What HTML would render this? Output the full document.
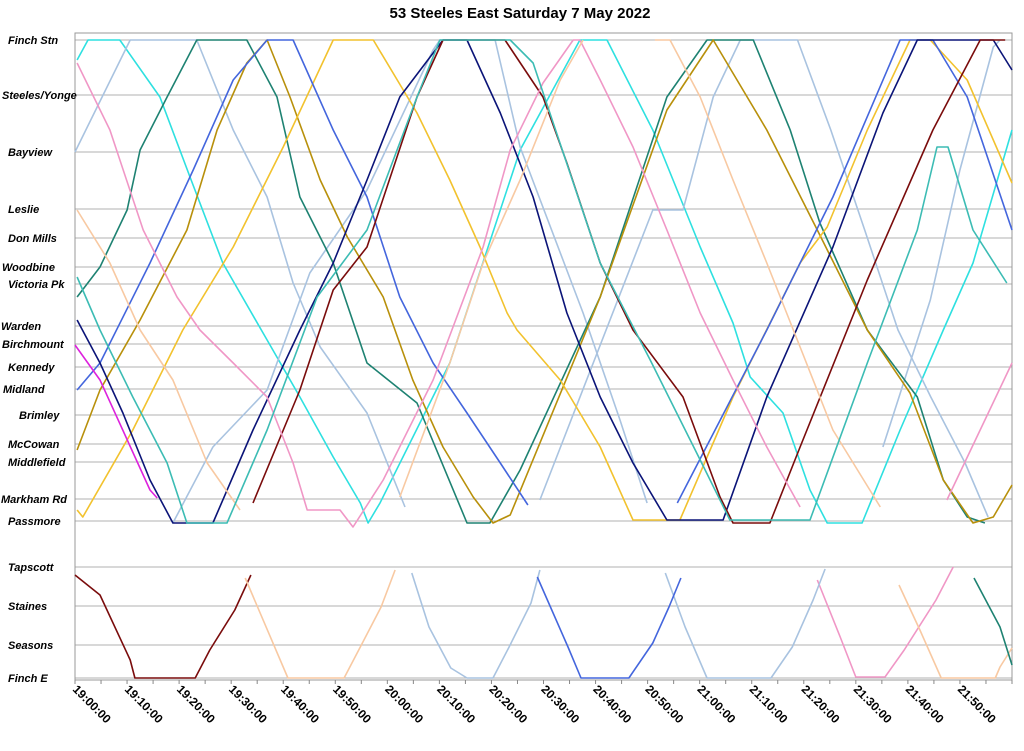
<!DOCTYPE html>
<html><head><meta charset="utf-8"><style>
body{margin:0;background:#fff;}
svg{display:block;font-family:"Liberation Sans",sans-serif;}
</style></head><body>
<svg id="chart" width="1024" height="751" viewBox="0 0 1024 751">
<text x="520" y="18" text-anchor="middle" font-size="15" font-weight="bold">53 Steeles East Saturday 7 May 2022</text>
<g id="grid"></g><g id="series"></g><g id="axes"></g>
</svg>
<script>
const stopNames=["Finch Stn","Steeles/Yonge","Bayview","Leslie","Don Mills","Woodbine","Victoria Pk","Warden","Birchmount","Kennedy","Midland","Brimley","McCowan","Middlefield","Markham Rd","Passmore","Tapscott","Staines","Seasons","Finch E"];
const stopDist=[0,5.5,11.2,16.9,19.8,22.7,24.4,28.6,30.4,32.7,34.9,37.5,40.4,42.2,45.9,48.1,52.7,56.6,60.5,63.8];
const labelX=[8,2,8,8,8,2,8,1,2,8,3,19,8,8,1,8,8,8,8,8];
const tickLabels=["19:00:00","19:10:00","19:20:00","19:30:00","19:40:00","19:50:00","20:00:00","20:10:00","20:20:00","20:30:00","20:40:00","20:50:00","21:00:00","21:10:00","21:20:00","21:30:00","21:40:00","21:50:00"];
const tripColors=["#2ee0e0","#a9c3e0","#a9c3e0","#a9c3e0","#a9c3e0","#1e8272","#b8900b","#f2c22e","#4466dd","#4466dd","#0b1478","#7a0c0c","#7a0c0c","#f097c6","#f097c6","#f097c6","#f8c9a2","#f8c9a2","#f8c9a2","#f8c9a2","#f8c9a2","#a9c3e0","#a9c3e0","#4466dd","#1e8272","#3cbcb4","#dd22dd"];
const tripCyan=[[0.4,2],[2.5,0],[8.6,0],[16.3,5.7],[22.1,13.7],[28.4,22.3],[36.9,30],[43.2,35.7],[49.6,41.7],[54.8,46.3],[56.3,48.3],[58.6,46.3],[72,32.3],[85.5,11],[97,0],[102.2,0],[111,9],[120.1,20.7],[126.4,28.3],[129.7,33.7],[136,37.3],[141.2,45],[144.5,48.3],[151.2,48.3],[158.5,39],[166.8,29],[172.5,22.3],[180,9]];
const tripLb1=[[0,11.2],[10.6,0],[23.4,0],[30.4,9],[36.9,15.7],[41.9,24.3],[47.1,30.7],[56.1,37.3],[63.4,46.7]];
const tripLb2=[[18.8,48.3],[26.5,40.7],[36.9,35],[45.1,23.3],[56.1,15],[68.8,1],[70.1,0],[80.7,0],[85.5,10.7],[97.6,27.3],[104.7,38],[109.9,46.3]];
const tripLb3=[[89.3,46],[111,17],[116.8,17],[122.6,5.7],[127.8,0],[138.8,0],[145.2,9],[151.7,19],[158.1,29],[164.4,35.7],[171,42.3],[175.4,47.7]];
const tripLb4=[[155.2,40.7],[164.3,26],[170,13],[176.4,0.7],[177.7,0]];
const tripTeal=[[0.4,25.7],[4.8,22.7],[10,17],[12.5,11],[17.7,5.7],[23.4,0],[33,0],[38.8,5.7],[43.2,15.7],[49.6,22.3],[56.1,32.3],[65.7,36.3],[75.3,48.3],[79.7,48.3],[85.5,43],[100.9,25.7],[113.7,5.7],[121.4,0],[130.3,0],[137.4,9],[143.1,18.3],[152.2,29],[161.8,35.7],[166.8,44],[171.4,47.7],[174.8,48.3]];
const tripGoldenrod=[[0.4,41],[4.8,35],[12.5,28],[21.5,19],[27.3,9],[33,2.3],[36.9,0],[41.3,5.7],[47.1,14],[52.3,19.7],[59.2,25.7],[64.9,34],[70.7,40.7],[76.5,45.7],[80.3,48.3],[83.6,47.5],[100.9,25.7],[113.7,7],[122.6,0],[132.9,9],[142.6,19],[152.2,29],[160.4,35.3],[166.8,44],[172.5,48.3],[176.4,47.7],[180,44.5]];
const tripGold=[[0.4,47],[1.5,47.7],[11.1,39],[20.7,29],[30.4,20.7],[40,10.7],[49.6,0],[57.3,0],[65.7,7.3],[72,14],[77.8,20.7],[83,27.3],[84.9,29],[93.2,34],[100.9,40.7],[107.2,48],[116.2,48],[126.4,35.7],[139.3,22.3],[144.5,18.7],[152.2,9],[160.4,0],[164.3,0],[171.4,4],[180,14.3]];
const tripBlue1=[[0.4,35],[4.8,32.3],[14.4,22.3],[22.7,13],[30.4,4],[36.9,0],[41.9,0],[49.6,9],[56.1,15.7],[62.4,25.7],[68.8,32.3],[75.3,37.3],[81.7,42.3],[87,46.5]];
const tripBlue2=[[115.7,46.3],[132.9,29],[145.6,15.7],[158.5,0],[164.8,0],[171.4,5.7],[180,19]];
const tripNavy=[[0.4,28],[4.8,32.3],[9.2,37.3],[14.4,44],[18.8,48.3],[26.5,48.3],[34.2,39],[43.2,29],[49.6,22.3],[56.1,14],[62.4,5.7],[70.7,0],[75.3,0],[81.7,7.3],[88,15.7],[94.5,27.3],[100.9,35.7],[107.2,42.3],[113.7,48],[124.5,48],[132.9,35.7],[145.6,20.7],[155.2,7.3],[161.8,0],[176.4,0],[180,3]];
const tripRed=[[34.2,46.3],[43.2,35],[49.6,25],[56.1,20.7],[65.7,5.7],[70.7,0],[82.6,0],[89.9,5.7],[94.5,12.3],[100.9,22.3],[107.2,29],[116.8,35.7],[123.9,45.7],[126.4,48.3],[133.5,48.3],[139.3,40.7],[152.2,24],[164.8,9],[173.9,0],[178.7,0]];
const tripRedLower=[[0,53.5],[4.8,55.5],[10.6,62],[11.5,63.8],[23.1,63.8],[25.9,61],[30.7,57],[33.8,53.5]];
const tripPink=[[0.4,2.3],[6.7,9],[13.1,19],[19.6,25.7],[24,29],[30.4,32.3],[36.9,35.7],[41.9,42.3],[44.6,47],[50.9,47],[53.4,48.7],[59.2,44],[68.8,34],[78.4,20.7],[83.6,11],[89.9,4.3],[95.7,0],[97,0],[100.9,4],[107.2,10.7],[113.7,19],[120.1,27.3],[126.4,34],[132.9,40.7],[139.3,46.7]];
const tripPink2=[[167.5,46],[180,32.3]];
const tripPinkLower=[[142.6,54],[147,59.7],[150,63.7],[155.6,63.7],[159.3,61],[165.4,56],[168.7,52.7]];
const tripPeach1=[[0.4,17],[6.7,22.3],[12.5,29],[18.8,34],[25.4,42.3],[31.7,47]];
const tripPeach2=[[62.4,45.7],[72,32.3],[78.4,22.3],[85.5,14],[93.2,4],[97.6,0]];
const tripPeach3=[[111.4,0],[114.3,0],[120.1,5.7],[126.4,14],[132.9,22.3],[139.3,30.7],[145.6,39],[154.7,46.7]];
const tripPeachLower1=[[32.7,53.8],[40.9,63.8],[51.7,63.8],[54.8,60.7],[58.8,56.7],[61.5,53]];
const tripPeachLower2=[[158.3,54.5],[162.3,59],[166.4,63.8],[176.8,63.8],[177.7,62.7],[180,60.8]];
const tripLbLower1=[[64.7,53.3],[68,58.7],[72.2,62.8],[75.3,63.8],[80.3,63.8],[83.4,60.7],[87.6,56.3],[89.3,53]];
const tripLbLower2=[[113.4,53.3],[117.2,58.7],[121.4,63.8],[133.7,63.8],[137.8,60.7],[141.8,56],[144.1,52.9]];
const tripBlueLower=[[88.8,53.7],[94.7,60.7],[97.2,63.8],[106.4,63.8],[111,60.3],[114.1,56.7],[116.4,53.8]];
const tripTealLower=[[172.7,53.8],[177.7,58.7],[180,62.5]];
const tripTurq=[[0.4,23.7],[4.8,29],[11.1,35.7],[17.7,42.3],[21.5,48.3],[29.2,48.3],[36.9,39],[46.5,25.7],[56.1,19],[65.7,5.7],[70.1,0],[83.6,0],[88,2.3],[100.9,22.3],[110.5,32],[120.1,42],[125.8,48],[141.2,48],[152.2,32.3],[161.8,19],[165.6,10.7],[167.7,10.7],[172.5,19],[179,24.3]];
const tripMagenta=[[0,30.5],[4.8,34],[14.4,45],[15.8,45.8]];
const trips=[tripCyan,tripLb1,tripLb2,tripLb3,tripLb4,tripTeal,tripGoldenrod,tripGold,tripBlue1,tripBlue2,tripNavy,tripRed,tripRedLower,tripPink,tripPink2,tripPinkLower,tripPeach1,tripPeach2,tripPeach3,tripPeachLower1,tripPeachLower2,tripLbLower1,tripLbLower2,tripBlueLower,tripTealLower,tripTurq,tripMagenta];

const X0=75,X1=1012,TMAX=180,Y0=40,DMAX=63.8,Y1=678;
const xs=t=>X0+(X1-X0)*t/TMAX;
const ys=d=>Y0+(Y1-Y0)*d/DMAX;
const NS="http://www.w3.org/2000/svg";
function mk(tag,attrs,parent){const e=document.createElementNS(NS,tag);for(const k in attrs)e.setAttribute(k,attrs[k]);parent.appendChild(e);return e;}
const grid=document.getElementById('grid'),ser=document.getElementById('series'),axes=document.getElementById('axes');
mk('rect',{x:X0,y:33,width:X1-X0,height:Y1+2-33,fill:'none',stroke:'#999','stroke-width':1},grid);
stopNames.forEach((n,i)=>{
  const y=ys(stopDist[i]);
  const l=mk('line',{x1:X0,x2:X1,y1:y,y2:y,stroke:'#999','stroke-width':0.8},grid);
  
  
  const t=mk('text',{x:labelX[i],y:y+4,'font-size':11,'font-weight':'bold','font-style':'italic'},axes);
  t.textContent=n;
  
  
});
for(let m=0;m<=TMAX;m+=5){const x=xs(m);mk('line',{x1:x,x2:x,y1:Y1+2,y2:Y1+6,stroke:'#888'},axes);}
tickLabels.forEach((s,i)=>{
  const x=xs(i*10);
  const t=mk('text',{x:0,y:0,'font-size':12,'font-weight':'bold',transform:`translate(${x-3},${Y1+12}) rotate(45)`},axes);
  t.textContent=s;
  
  
});
trips.forEach((tr,i)=>{
  const p=mk('polyline',{points:tr.map(q=>xs(q[0]).toFixed(1)+','+ys(q[1]).toFixed(1)).join(' '),fill:'none',stroke:tripColors[i],'stroke-width':1.6,'stroke-linejoin':'round'},ser);
  
  
});
</script>
</body></html>
